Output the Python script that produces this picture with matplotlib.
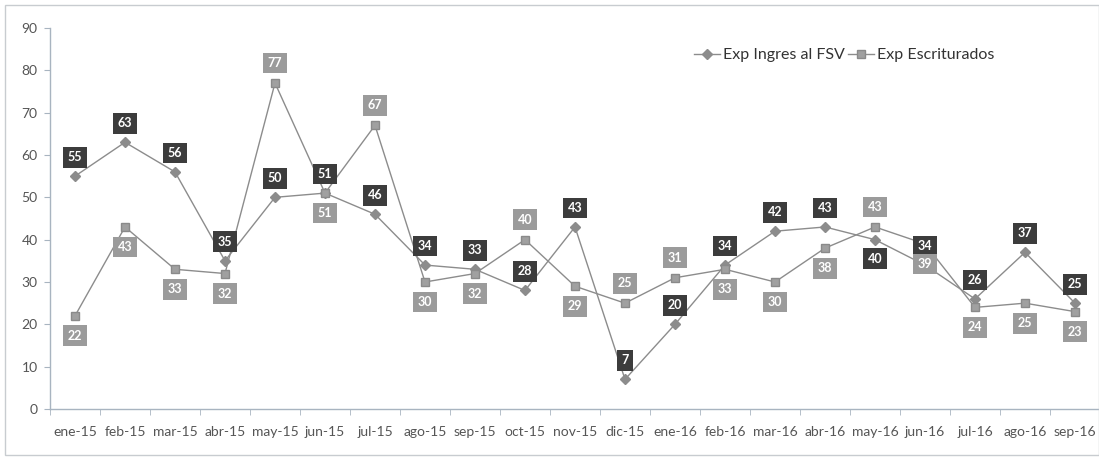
import matplotlib
matplotlib.use("Agg")
import matplotlib.pyplot as plt
from matplotlib.patches import Rectangle
from matplotlib.ticker import FixedLocator, NullFormatter

plt.rcParams["font.family"] = ["Lato", "DejaVu Sans"]

# --- Data ---
months = ["ene-15", "feb-15", "mar-15", "abr-15", "may-15", "jun-15", "jul-15",
          "ago-15", "sep-15", "oct-15", "nov-15", "dic-15", "ene-16", "feb-16",
          "mar-16", "abr-16", "may-16", "jun-16", "jul-16", "ago-16", "sep-16"]
ingresos = [55, 63, 56, 35, 50, 51, 46, 34, 33, 28, 43, 7, 20, 34, 42, 43, 40, 34, 26, 37, 25]
escriturados = [22, 43, 33, 32, 77, 51, 67, 30, 32, 40, 29, 25, 31, 33, 30, 38, 43, 39, 24, 25, 23]

# label placement: +1 above the point, -1 below
ing_side = [1, 1, 1, 1, 1, 1, 1, 1, 1, 1, 1, 1, 1, 1, 1, 1, -1, 1, 1, 1, 1]
esc_side = [-1, -1, -1, -1, 1, -1, 1, -1, -1, 1, -1, 1, 1, -1, -1, -1, 1, -1, -1, -1, -1]

line_col = "#8c8c8c"
dark_box = "#3c3c3c"
light_box = "#9b9b9b"
text_col = "#555555"

fig = plt.figure(figsize=(10.99, 4.58), dpi=100)
ax = fig.add_axes([50 / 1099, 49 / 458, 1050 / 1099, 381 / 458])

x = list(range(len(months)))
ax.plot(x, ingresos, "-", color=line_col, lw=1.0, marker="D", markersize=5,
        markerfacecolor=line_col, markeredgecolor=line_col, label="Exp Ingres al FSV", zorder=3)
ax.plot(x, escriturados, "-", color=line_col, lw=1.0, marker="s", markersize=6,
        markerfacecolor="#a0a0a0", markeredgecolor="#8a8a8a", label="Exp Escriturados", zorder=3)

for i in x:
    ax.annotate(str(ingresos[i]), (i, ingresos[i]), xytext=(0, 19 * ing_side[i]),
                textcoords="offset pixels",
                ha="center", va="center", color="white", fontsize=9, fontweight="bold",
                bbox=dict(boxstyle="square,pad=0.35", fc=dark_box, ec="none"), zorder=4)
    ax.annotate(str(escriturados[i]), (i, escriturados[i]), xytext=(0, 20 * esc_side[i]),
                textcoords="offset pixels",
                ha="center", va="center", color="white", fontsize=9, fontweight="bold",
                bbox=dict(boxstyle="square,pad=0.35", fc=light_box, ec="none"), zorder=4)

ax.set_xlim(-0.5, len(months) - 0.5)
ax.set_ylim(0, 90)
ax.set_yticks(range(0, 91, 10))
ax.set_xticks(x)
ax.set_xticklabels(months)
ax.xaxis.set_minor_locator(FixedLocator([i + 0.5 for i in range(-1, len(months))]))
ax.xaxis.set_minor_formatter(NullFormatter())
ax.tick_params(axis="x", which="major", length=0, pad=12, labelsize=10, labelcolor=text_col)
ax.tick_params(axis="x", which="minor", length=4, color="#a8b4c0")
ax.tick_params(axis="y", length=4, color="#a8b4c0", labelsize=10, labelcolor=text_col, pad=5)

for side in ["top", "right"]:
    ax.spines[side].set_visible(False)
for side in ["left", "bottom"]:
    ax.spines[side].set_color("#a8b4c0")
    ax.spines[side].set_linewidth(1.0)

ax.legend(loc="upper left", bbox_to_anchor=(630 / 1050, 0.985), ncol=2, frameon=False,
          fontsize=11.5, handlelength=1.6, handletextpad=0.2, columnspacing=0.2,
          labelcolor="#333333")

fig.patches.append(Rectangle((5 / 1099, 3 / 458), 1 - 5 / 1099, 1 - 8 / 458,
                             transform=fig.transFigure, fill=False, ec="#c8ccd0", lw=1.0))

fig.savefig("out.png", dpi=100)
